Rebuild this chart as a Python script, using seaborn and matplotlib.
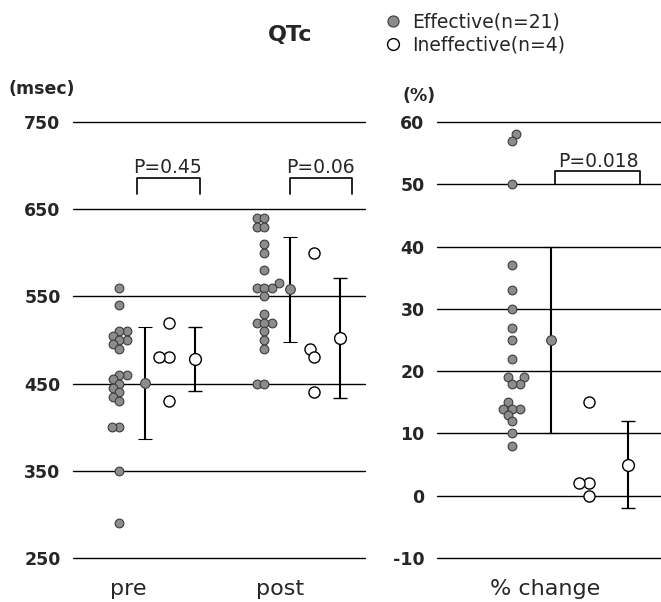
import numpy as np
import pandas as pd
import seaborn as sns
import matplotlib.pyplot as plt
from matplotlib.lines import Line2D

# QTc values (msec)
pre_eff = [560, 540, 510, 510, 505, 500, 500, 495, 490, 460, 460, 455, 450,
           445, 440, 435, 430, 400, 400, 350, 290]
post_eff = [640, 640, 630, 630, 610, 600, 580, 565, 560, 560, 560, 550, 530,
            520, 520, 520, 510, 500, 490, 450, 450]
pre_ineff = [520, 480, 480, 430]
post_ineff = [600, 490, 480, 440]

# % change
pct_eff = [58, 57, 50, 37, 33, 30, 27, 25, 22, 19, 19, 18, 18, 15, 14, 14,
           14, 13, 12, 10, 8]
pct_ineff = [15, 2, 2, 0]

# mean and SD as drawn in the figure
qtc_mean_eff = [451, 558]
qtc_sd_eff = [64, 60]
qtc_mean_ineff = [478, 502]
qtc_sd_ineff = [37, 69]
pct_mean = [25, 5]
pct_sd = [15, 7]

phases = ["pre", "post"]
p_left = ["P=0.45", "P=0.06"]
p_right = "P=0.018"

W, H = 661, 602
grey = "#8c8c8c"
dark = "#3c3c3c"

sns.set_style("white")
plt.rcParams["font.family"] = ["DejaVu Sans"]
plt.rcParams["axes.unicode_minus"] = False

fig = plt.figure(figsize=(W / 100, H / 100), dpi=100)
ax1 = fig.add_axes([73 / W, 1 - 558 / H, (365 - 73) / W, (558 - 122) / H])
ax2 = fig.add_axes([437 / W, 1 - 558 / H, (661 - 437) / W, (558 - 122) / H])

# offsets of (dots, mean) for each group, in category units
off_left = [-0.26, -0.085, 0.085, 0.26]
off_right = [-0.4, -0.13, 0.13, 0.4]

# swarms are laid out with small dots, then drawn bigger so they overlap
swarms = []


def swarm(ax, df, y, filled):
    n0 = len(ax.collections)
    if filled:
        sns.swarmplot(data=df, x="pos", y=y, native_scale=True, orient="x",
                      ax=ax, color=grey, edgecolor=dark, linewidth=0.8,
                      size=4.6, zorder=3)
        ms = 6.3
    else:
        sns.swarmplot(data=df, x="pos", y=y, native_scale=True, orient="x",
                      ax=ax, color="white", edgecolor="black", linewidth=1,
                      size=6, zorder=3)
        ms = 8
    for c in ax.collections[n0:]:
        swarms.append((c, ms))


df_eff = pd.DataFrame({
    "pos": [off_left[0]] * len(pre_eff) + [1 + off_left[0]] * len(post_eff),
    "qtc": pre_eff + post_eff,
})
df_ineff = pd.DataFrame({
    "pos": [off_left[2]] * len(pre_ineff) + [1 + off_left[2]] * len(post_ineff),
    "qtc": pre_ineff + post_ineff,
})
swarm(ax1, df_eff, "qtc", True)
swarm(ax1, df_ineff, "qtc", False)

ax1.errorbar(np.arange(2) + off_left[1], qtc_mean_eff, yerr=qtc_sd_eff,
             fmt="o", ms=7, mfc=grey, mec=dark, mew=0.8, ecolor="black",
             elinewidth=1.5, capsize=5, capthick=1.5, zorder=4)
ax1.errorbar(np.arange(2) + off_left[3], qtc_mean_ineff, yerr=qtc_sd_ineff,
             fmt="o", ms=8.5, mfc="white", mec="black", mew=1, ecolor="black",
             elinewidth=1.5, capsize=5, capthick=1.5, zorder=4)

pct_df_eff = pd.DataFrame({"pos": [off_right[0]] * len(pct_eff), "pct": pct_eff})
pct_df_ineff = pd.DataFrame({"pos": [off_right[2]] * len(pct_ineff), "pct": pct_ineff})
swarm(ax2, pct_df_eff, "pct", True)
swarm(ax2, pct_df_ineff, "pct", False)

ax2.errorbar([off_right[1]], [pct_mean[0]], yerr=[pct_sd[0]], fmt="o", ms=7,
             mfc=grey, mec=dark, mew=0.8, ecolor="black", elinewidth=1.5,
             capsize=5, capthick=1.5, zorder=4)
ax2.errorbar([off_right[3]], [pct_mean[1]], yerr=[pct_sd[1]], fmt="o", ms=8.5,
             mfc="white", mec="black", mew=1, ecolor="black", elinewidth=1.5,
             capsize=5, capthick=1.5, zorder=4)

# significance brackets
for i, (x0, x1, xt) in enumerate([(-0.138, 0.297, 0.072), (0.917, 1.345, 1.124)]):
    ax1.plot([x0, x0, x1, x1], [668, 686, 686, 668], color="black", lw=1.2)
    ax1.text(xt, 691, p_left[i], ha="center", va="baseline", fontsize=13.5)
ax2.plot([-0.103, -0.103, 0.483, 0.483], [50, 52.1, 52.1, 50], color="black", lw=1.2)
ax2.text(0.193, 52.7, p_right, ha="center", va="baseline", fontsize=13.5)

for ax, lim, ticks, xl in [(ax1, (250, 750), range(250, 751, 100), (-0.58, 1.434)),
                           (ax2, (-10, 60), range(-10, 61, 10), (-0.917, 0.628))]:
    ax.set_ylim(*lim)
    ax.set_xlim(*xl)
    ax.set_yticks(list(ticks))
    ax.yaxis.grid(True, color="black", lw=1)
    ax.xaxis.grid(False)
    ax.set_axisbelow(True)
    sns.despine(ax=ax, left=True, bottom=True)
    ax.tick_params(axis="y", length=0, pad=9, labelsize=12.5)
    ax.tick_params(axis="x", length=0, pad=15, labelsize=16)
    for lab in ax.get_yticklabels():
        lab.set_fontweight("bold")
    for gl in ax.get_ygridlines():
        gl.set_clip_on(False)
    ax.set_xlabel("")
    ax.set_ylabel("")

ax1.set_xticks([-0.2, 0.85], phases)
ax2.set_xticks([-0.17], ["% change"])

fig.text(290 / W, 1 - 41 / H, "QTc", ha="center", va="baseline", fontsize=16,
         fontweight="bold")
fig.text(8 / W, 1 - 94 / H, "(msec)", va="baseline", fontsize=12.5,
         fontweight="bold")
fig.text(403 / W, 1 - 101 / H, "(%)", va="baseline", fontsize=12.5,
         fontweight="bold")

handles = [
    Line2D([], [], marker="o", ls="", ms=8, mfc=grey, mec=dark, mew=0.8),
    Line2D([], [], marker="o", ls="", ms=8.5, mfc="white", mec="black", mew=1),
]
fig.legend(handles, ["Effective(n=21)", "Ineffective(n=4)"], loc="upper left",
           bbox_to_anchor=(384 / W, 1 - 13 / H), frameon=False, fontsize=13.5,
           handlelength=1, handletextpad=0.5, borderpad=0, borderaxespad=0,
           labelspacing=0.2)

# fix the swarm layout, then enlarge the dots
fig.canvas.draw()
for coll, ms in swarms:
    if "draw" in coll.__dict__:
        del coll.draw
    coll.set_sizes([ms ** 2])

fig.savefig("out.png", dpi=100)
